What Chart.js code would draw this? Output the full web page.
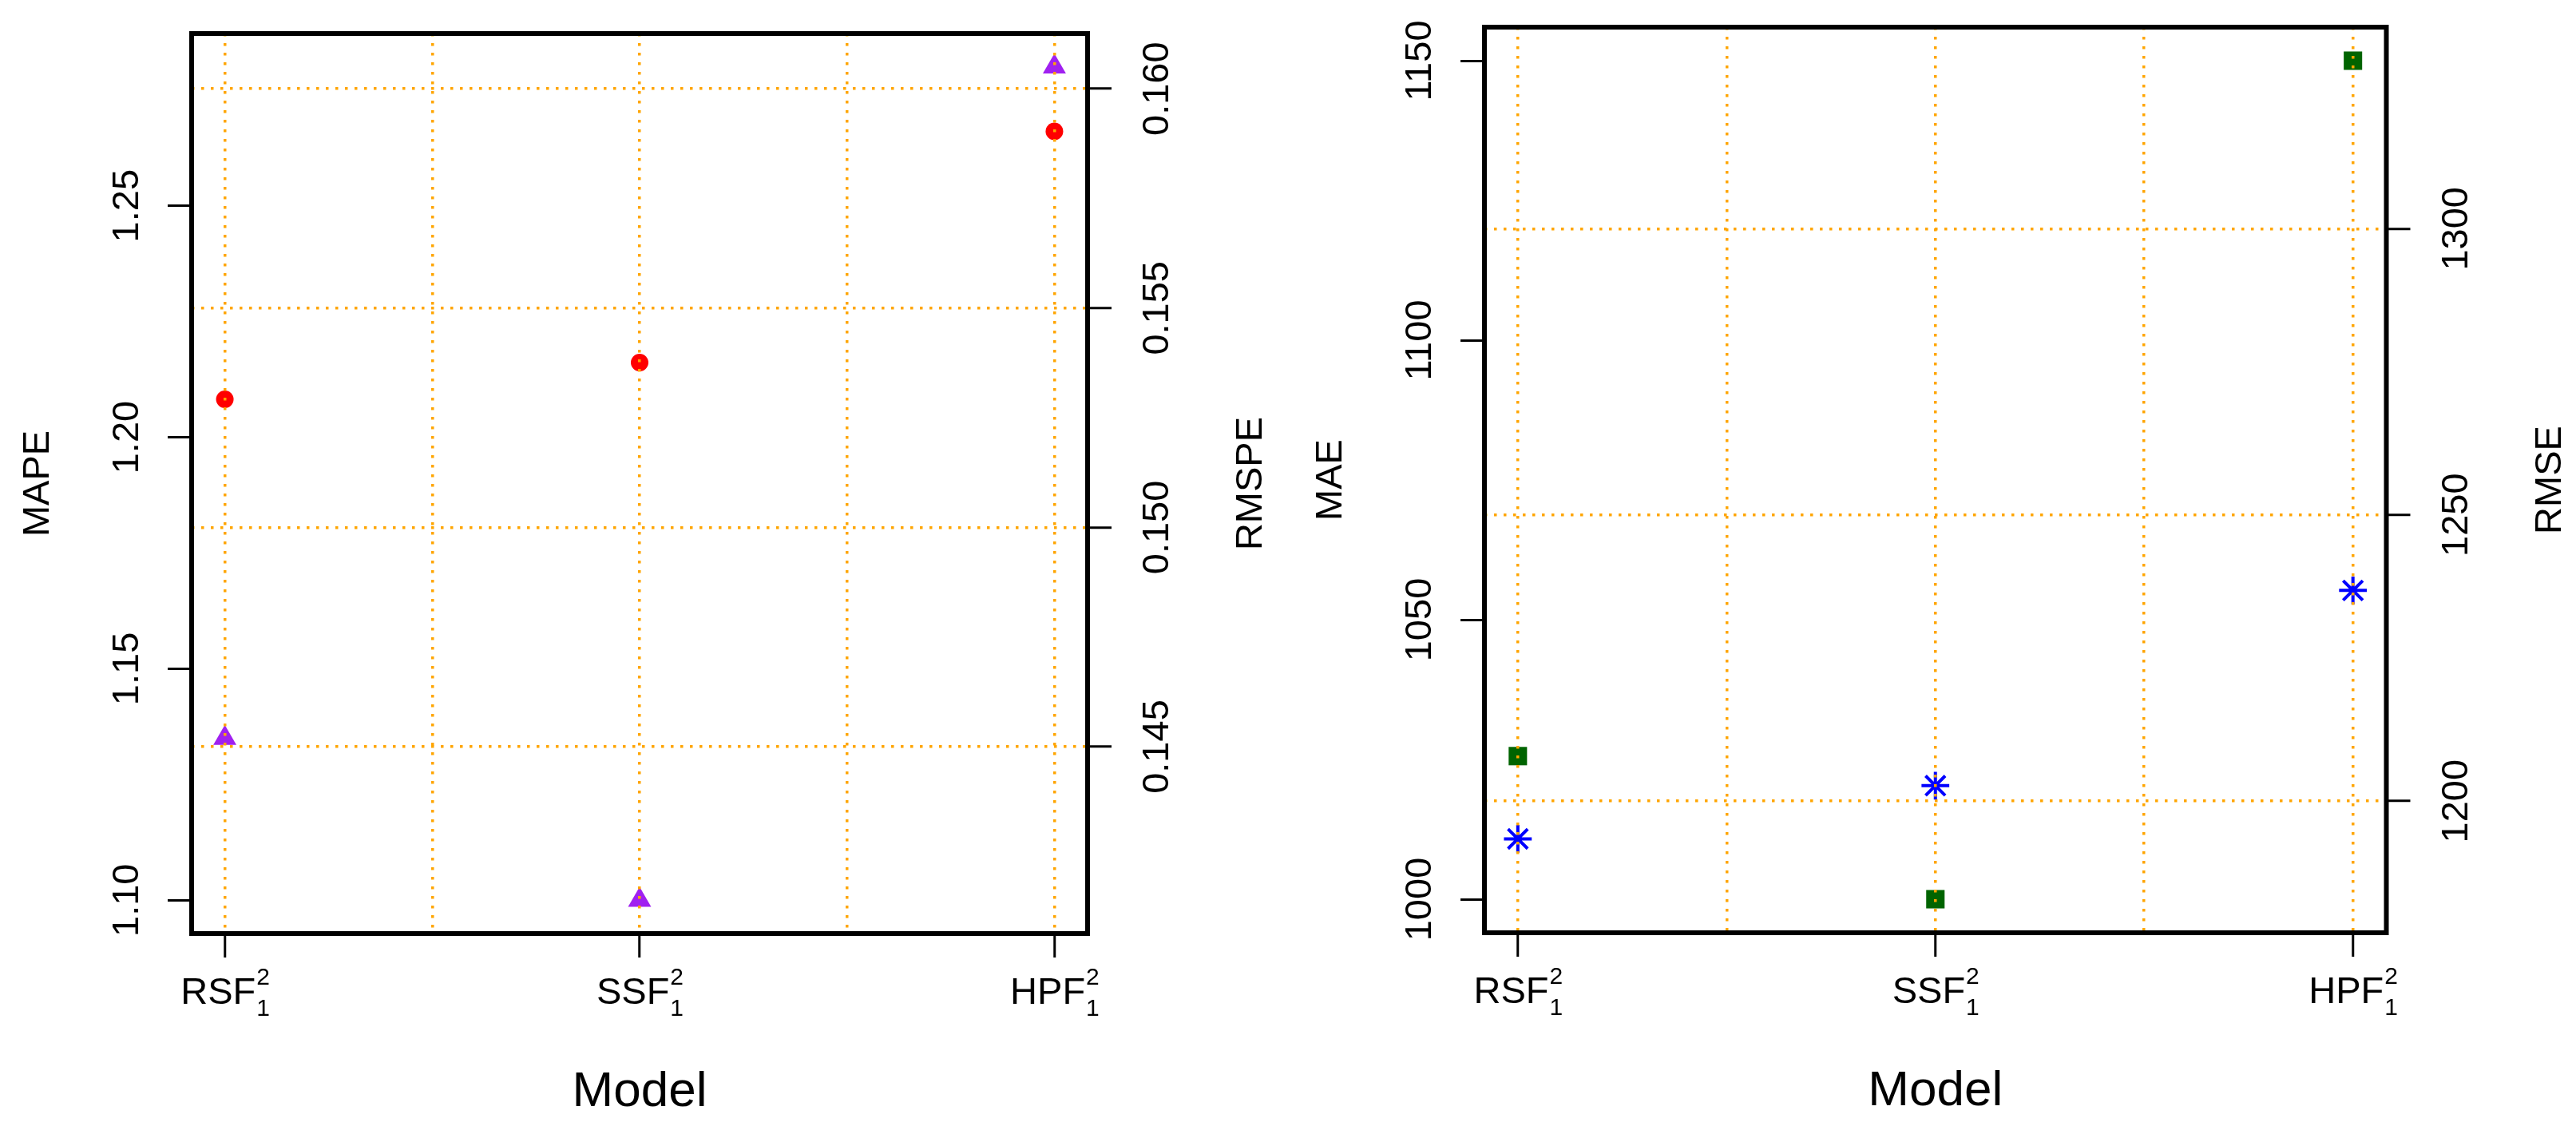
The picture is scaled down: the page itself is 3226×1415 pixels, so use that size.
<!DOCTYPE html>
<html>
<head>
<meta charset="utf-8">
<script src="https://cdn.jsdelivr.net/npm/chart.js@4.4.1/dist/chart.umd.min.js"></script>
<style>
    html, body { margin: 0; padding: 0; background: #fff; }
    #wrap { position: relative; width: 3226px; height: 1415px; }
    canvas { position: absolute; top: 0; }
    #left-panel { left: 0; }
    #right-panel { left: 1613px; }
</style>
</head>
<body>
<div id="wrap">
    <canvas id="left-panel" width="1613" height="1415"></canvas>
    <canvas id="right-panel" width="1613" height="1415"></canvas>
</div>
<script>
// x axis: model names, drawn as NAME with subscript 1 and superscript 2
const models = ['RSF', 'SSF', 'HPF'];
const modelSub = '1';
const modelSup = '2';
const gridX = [1, 1.5, 2, 2.5, 3];

// left panel
const mape = [1.135, 1.100, 1.280];
const rmspe = [0.15292, 0.15376, 0.15903];
const mapeTicks = [1.10, 1.15, 1.20, 1.25];
const rmspeTicks = [0.145, 0.150, 0.155, 0.160];

// right panel
const mae = [1025.6, 1000, 1150];
const rmse = [1193.4, 1202.7, 1236.8];
const maeTicks = [1000, 1050, 1100, 1150];
const rmseTicks = [1200, 1250, 1300];

const FONT = '"Liberation Sans", Arial, Helvetica, sans-serif';
const ORANGE = '#FFA500';

function drawUp(ctx, text, x, y, size) {
    // text reading bottom to top, baseline on the right side
    ctx.save();
    ctx.translate(x, y);
    ctx.rotate(-Math.PI / 2);
    ctx.font = `${size}px ${FONT}`;
    ctx.textAlign = 'center';
    ctx.textBaseline = 'alphabetic';
    ctx.fillText(text, 0, 0);
    ctx.restore();
}

function drawModel(ctx, name, x, baseY) {
    ctx.font = `47px ${FONT}`;
    const w = ctx.measureText(name).width;
    ctx.font = `30px ${FONT}`;
    const ws = ctx.measureText(modelSup).width;
    const x0 = x - (w + ws) / 2;
    ctx.textAlign = 'left';
    ctx.textBaseline = 'alphabetic';
    ctx.font = `47px ${FONT}`;
    ctx.fillText(name, x0, baseY);
    ctx.font = `30px ${FONT}`;
    ctx.fillText(modelSup, x0 + w + 1, baseY - 24);
    ctx.fillText(modelSub, x0 + w + 1, baseY + 15);
}

// box, tick labels and axis titles the R way
const rFrame = {
    id: 'rFrame',
    afterDraw(chart, args, opts) {
        const { ctx, chartArea: a, scales } = chart;
        ctx.save();
        ctx.lineWidth = 6;
        ctx.strokeStyle = '#000';
        ctx.lineJoin = 'miter';
        ctx.strokeRect(a.left, a.top, a.right - a.left, a.bottom - a.top);
        ctx.fillStyle = '#000';

        scales.x.ticks.forEach(t => {
            if (!Number.isInteger(t.value)) return;
            drawModel(ctx, models[t.value - 1], scales.x.getPixelForValue(t.value), a.bottom + 88);
        });
        scales.yL.ticks.forEach(t => {
            drawUp(ctx, opts.leftFmt(t.value), a.left - 67, scales.yL.getPixelForValue(t.value), 47);
        });
        scales.yR.ticks.forEach(t => {
            drawUp(ctx, opts.rightFmt(t.value), a.right + 101, scales.yR.getPixelForValue(t.value), 47);
        });

        const midY = (a.top + a.bottom) / 2;
        drawUp(ctx, opts.leftTitle, a.left - 179, midY, 47);
        drawUp(ctx, opts.rightTitle, a.right + 218, midY, 47);

        ctx.font = `62px ${FONT}`;
        ctx.textAlign = 'center';
        ctx.textBaseline = 'alphabetic';
        ctx.fillText('Model', (a.left + a.right) / 2, a.bottom + 216);
        ctx.restore();
    }
};

function fixedTicks(values) {
    return scale => { scale.ticks = values.map(v => ({ value: v })); };
}

function makePanel(canvasId, p) {
    const toPoints = arr => arr.map((v, i) => ({ x: i + 1, y: v }));
    return new Chart(document.getElementById(canvasId), {
        type: 'scatter',
        data: {
            datasets: [
                Object.assign({ data: toPoints(p.left.data), yAxisID: 'yL', clip: false }, p.left.marker),
                Object.assign({ data: toPoints(p.right.data), yAxisID: 'yR', clip: false }, p.right.marker)
            ]
        },
        options: {
            responsive: false,
            animation: false,
            events: [],
            layout: { padding: p.padding },
            plugins: {
                legend: { display: false },
                tooltip: { enabled: false },
                rFrame: {
                    leftTitle: p.left.title,
                    rightTitle: p.right.title,
                    leftFmt: p.left.fmt,
                    rightFmt: p.right.fmt
                }
            },
            scales: {
                x: {
                    type: 'linear',
                    min: 0.92,
                    max: 3.08,
                    afterBuildTicks: fixedTicks(gridX),
                    afterFit: s => { s.height = 200; },
                    ticks: { display: false },
                    grid: {
                        color: ORANGE,
                        lineWidth: 3.5,
                        z: 1,
                        tickLength: 30,
                        tickWidth: 3,
                        tickBorderDash: [],
                        tickColor: c => (c.tick && Number.isInteger(c.tick.value)) ? '#000' : 'rgba(0,0,0,0)'
                    },
                    border: { display: false, dash: [3.5, 8.5] }
                },
                yL: {
                    type: 'linear',
                    position: 'left',
                    min: p.left.min,
                    max: p.left.max,
                    afterBuildTicks: fixedTicks(p.left.ticks),
                    afterFit: s => { s.width = 200; },
                    ticks: { display: false },
                    grid: { drawOnChartArea: false, tickLength: 30, tickWidth: 3, tickColor: '#000' },
                    border: { display: false }
                },
                yR: {
                    type: 'linear',
                    position: 'right',
                    min: p.right.min,
                    max: p.right.max,
                    afterBuildTicks: fixedTicks(p.right.ticks),
                    afterFit: s => { s.width = 200; },
                    ticks: { display: false },
                    grid: {
                        color: ORANGE,
                        lineWidth: 3.5,
                        z: 1,
                        tickLength: 30,
                        tickWidth: 3,
                        tickBorderDash: [],
                        tickColor: '#000'
                    },
                    border: { display: false, dash: [3.5, 8.5] }
                }
            }
        },
        plugins: [rFrame]
    });
}

makePanel('left-panel', {
    padding: { left: 40, right: 51, top: 42, bottom: 46 },
    left: {
        title: 'MAPE', data: mape, ticks: mapeTicks, min: 1.0928, max: 1.2872,
        fmt: v => v.toFixed(2),
        marker: { pointStyle: 'triangle', pointRadius: 16.7, pointBackgroundColor: '#A020F0', pointBorderWidth: 0 }
    },
    right: {
        title: 'RMSPE', data: rmspe, ticks: rmspeTicks, min: 0.14074, max: 0.16126,
        fmt: v => v.toFixed(3),
        marker: { pointStyle: 'circle', pointRadius: 11, pointBackgroundColor: '#FF0000', pointBorderWidth: 0 }
    }
});

makePanel('right-panel', {
    padding: { left: 46, right: 37.5, top: 34, bottom: 47 },
    left: {
        title: 'MAE', data: mae, ticks: maeTicks, min: 994, max: 1156,
        fmt: v => String(v),
        marker: { pointStyle: 'rect', pointRadius: 16.3, pointBackgroundColor: '#006400', pointBorderWidth: 0 }
    },
    right: {
        title: 'RMSE', data: rmse, ticks: rmseTicks, min: 1177.0, max: 1335.2,
        fmt: v => String(v),
        marker: { pointStyle: 'star', pointRadius: 17.4, pointBorderColor: '#0000FF', pointBorderWidth: 4 }
    }
});
</script>
</body>
</html>
